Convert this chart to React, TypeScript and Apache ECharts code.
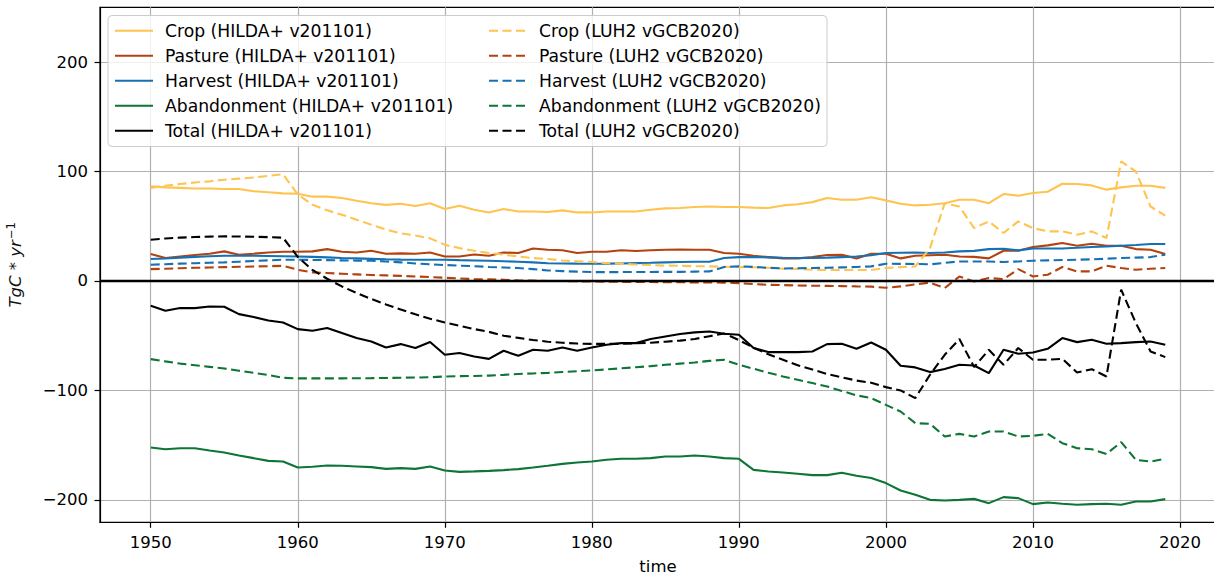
import React, { useEffect, useRef } from "react";
import * as echarts from "echarts";

const FONT = "DejaVu Sans";

const startYear = 1950;
const years: number[] = Array.from({ length: 70 }, (_, i) => startYear + i);

const xTicks = [1950, 1960, 1970, 1980, 1990, 2000, 2010, 2020];
const yTicks = [-200, -100, 0, 100, 200];

const cropHilda = [
  86.5, 85.5, 85, 84.5, 84.5, 84, 84, 82, 81, 80,
  79.6, 77, 77, 75.8, 73.3, 71, 69.5, 70.5, 68.5, 71,
  65.7, 68.7, 65, 62.6, 65.7, 63.5, 63.5, 63, 64.5, 62.6,
  62.6, 63.5, 63.5, 63.5, 65, 66.3, 66.6, 67.5, 68, 67.5,
  67.5, 67, 66.6, 69, 70, 72, 75.8, 74.2, 74.2, 76.4,
  73.6, 70.6, 69, 69.6, 71, 74.2, 74.2, 71, 79.4, 77.9,
  80.3, 81.5, 88.8, 88.5, 87.3, 83.4, 85.5, 87, 87, 85,
];
const pastureHilda = [
  24.6, 21, 22.4, 23.7, 24.9, 27, 24, 24.9, 26, 26.7,
  26.7, 27, 29.1, 26.7, 26, 27.6, 24.9, 25.2, 24.9, 26,
  22.4, 22.4, 24.2, 23, 26, 25.5, 29.7, 28.5, 28, 25.5,
  26.7, 26.7, 28, 27.4, 28, 28.5, 28.7, 28.5, 28.5, 25.5,
  24.9, 23, 21.8, 20.6, 20.6, 21.8, 23.7, 24, 20.6, 24.9,
  24.9, 20.6, 23, 23.5, 24, 22.4, 22, 20.6, 27.6, 27.6,
  31, 32.5, 34.6, 32.2, 34, 32.2, 32.2, 29.1, 28.5, 24.6,
];
const harvestHilda = [
  20, 20.5, 21.3, 22, 22.5, 23, 23, 23, 22.8, 22.6,
  22.4, 22, 21.5, 21, 20.6, 20.2, 19.8, 19.5, 19.4, 19.4,
  19.4, 19, 18.7, 18.4, 18, 17.5, 17, 16.2, 16, 15.8,
  15.7, 15.8, 16, 16.3, 16.6, 17, 17.3, 17.5, 17.5, 21,
  21.8, 21.8, 21.5, 21.2, 21, 21, 21.3, 21.8, 22.3, 23.5,
  25.5, 25.8, 26, 25.5, 26, 27, 27.5, 29.1, 29.4, 27.9,
  29.7, 29.7, 29.7, 30.3, 31, 31.5, 32.2, 32.8, 33.7, 33.7,
];
const abandonHilda = [
  -152.2, -153.7, -152.8, -152.8, -154.9, -156.8, -159.5, -161.9, -164.4, -165,
  -170.5, -169.8, -168.6, -168.9, -169.5, -170.1, -171.7, -171, -171.7, -169.5,
  -173.2, -174.4, -174, -173.5, -172.8, -171.9, -170.5, -168.9, -167.1, -165.9,
  -165, -163.4, -162.5, -162.5, -161.9, -160.4, -160.4, -159.5, -160.4, -161.9,
  -162.5, -172.6, -174.1, -175, -176.2, -177.4, -177.4, -175.3, -178, -180,
  -184.7, -191.5, -195.4, -200, -200.6, -200, -199.1, -203, -197.5, -198.4,
  -203.9, -202.4, -203.6, -204.5, -203.9, -203.6, -204.5, -201.5, -201.5, -199.3,
];
const totalHilda = [
  -22.7, -27.2, -24.8, -24.8, -23.3, -23.6, -30.3, -33, -36.1, -37.9,
  -44, -45.5, -43, -47.6, -52.2, -55.3, -60.8, -57.7, -61.3, -55.8,
  -67.5, -65.9, -69, -71.2, -63.8, -68.4, -62.9, -63.8, -60.8, -63.8,
  -60.8, -58.3, -56.8, -56.8, -53.1, -50.7, -48.5, -47, -46.2, -48.3,
  -49.2, -61.3, -65, -65, -65, -64.4, -57.7, -57.4, -62, -56.2,
  -62.9, -77.5, -79, -83.3, -80.5, -76.6, -77.2, -84.2, -62.9, -66.5,
  -65.3, -62, -52.2, -55.9, -53.7, -57.4, -56.8, -55.9, -55.3, -58.3,
];

const cropLuh2 = [
  85, 87, 88.5, 90, 91, 92.5, 93.5, 94.5, 96, 97.5,
  79, 69.6, 64.5, 60.5, 56, 51.4, 47, 43.5, 41.5, 38.9,
  33, 30, 27.6, 25.5, 24, 22.4, 20.9, 20, 18.7, 18,
  17.3, 16.3, 15.7, 15, 14.5, 14, 13.8, 13.5, 13.3, 13,
  12.7, 12.5, 12, 11.2, 11, 10.2, 10, 10, 10, 10,
  11.8, 12.6, 13.3, 30, 71, 68, 48.3, 54.4, 43.8, 54.4,
  48.3, 45.3, 45.3, 42.2, 45.3, 39.2, 109.2, 100, 68, 59.6,
];
const pastureLuh2 = [
  10.8, 11.2, 11.6, 12, 12.3, 12.6, 12.9, 13.2, 13.5, 13.8,
  10.2, 7.8, 7.2, 6.6, 6, 5.4, 5.1, 4.6, 4.1, 3.5,
  2.9, 2.3, 1.7, 1.5, 1.1, 0.5, 0.3, 0, 0, -0.3,
  -0.5, -0.6, -0.8, -0.9, -1, -1.1, -1.2, -1.3, -1.3, -1.5,
  -2, -2.9, -3.5, -3.8, -4.1, -4.4, -4.5, -4.7, -5, -5.2,
  -6.2, -5, -3.2, -1.5, -6.5, 4.1, -0.4, 2.6, 1.7, 10.8,
  4.1, 5.7, 12.7, 8.7, 8.7, 13.9, 11.8, 10.2, 11.2, 11.8,
];
const harvestLuh2 = [
  14.8, 15.3, 15.8, 16.2, 16.6, 17, 17.6, 18.2, 18.8, 19.4,
  19.4, 19.2, 19, 18.8, 18.6, 18.5, 17.8, 17, 16, 15.2,
  14.5, 14, 13.5, 12.8, 12.3, 11.8, 10.8, 9.6, 9, 8.5,
  8.1, 8.1, 8.1, 8.2, 8.2, 8.3, 8.3, 8.5, 8.7, 12.7,
  13.3, 12.8, 12, 11.4, 11.6, 11.8, 12, 12.4, 12.8, 13.3,
  15.7, 15.6, 15.5, 15.2, 16.5, 17.8, 17.8, 17.8, 17.3, 17.8,
  18.5, 18.8, 19.1, 19.4, 19.8, 20.3, 20.9, 21.3, 21.8, 24,
];
const abandonLuh2 = [
  -71.4, -73.5, -75.5, -77, -78.5, -80, -82, -84, -86, -88.5,
  -89, -89, -89, -89, -88.9, -88.8, -88.6, -88.4, -88.2, -88,
  -87.3, -87, -86.8, -86.5, -85.8, -85, -84.5, -84, -83.2, -82.5,
  -81.8, -80.8, -79.8, -78.8, -77.8, -76.6, -75.5, -74.5, -73, -72,
  -76.6, -80.2, -83.8, -87.3, -90.3, -93.3, -96.4, -100.5, -104.5, -107,
  -113.2, -119.3, -129.9, -130.5, -142.1, -139.7, -142.1, -137.5, -137.5, -142.1,
  -141.5, -139.7, -148.2, -152.8, -153.7, -158, -147.3, -163.4, -165, -162.5,
];
const totalLuh2 = [
  37.7, 38.8, 39.6, 40.1, 40.5, 40.7, 40.6, 40.4, 40, 39.5,
  22, 10, 2, -5, -11, -16.5, -21.5, -26, -30.5, -34.5,
  -38, -41, -44, -46.5, -50, -52, -54, -55.5, -56.5, -57.2,
  -57.5, -57.5, -57.3, -57, -56.5, -55.5, -54.5, -53, -50.5, -48,
  -54, -61, -67, -72, -77, -81, -85, -88, -91, -93,
  -97, -100, -107, -85.7, -67.5, -53.1, -78.7, -62.9, -76.6, -61.3,
  -72, -72, -71.1, -83.6, -80.6, -87.3, -8, -38.5, -64.4, -69.6,
];

const hildaNames = [
  "Crop (HILDA+ v201101)",
  "Pasture (HILDA+ v201101)",
  "Harvest (HILDA+ v201101)",
  "Abandonment (HILDA+ v201101)",
  "Total (HILDA+ v201101)",
];
const luhNames = [
  "Crop (LUH2 vGCB2020)",
  "Pasture (LUH2 vGCB2020)",
  "Harvest (LUH2 vGCB2020)",
  "Abandonment (LUH2 vGCB2020)",
  "Total (LUH2 vGCB2020)",
];
const colors = ["#fec44f", "#b4420f", "#1571b4", "#0d7535", "#000000"];
const hildaData = [cropHilda, pastureHilda, harvestHilda, abandonHilda, totalHilda];
const luhData = [cropLuh2, pastureLuh2, harvestLuh2, abandonLuh2, totalLuh2];

function makeSeries(name: string, values: number[], color: string, dashed: boolean) {
  return {
    name,
    type: "line",
    data: years.map((y, i) => [y, values[i]]),
    symbol: "none",
    showSymbol: false,
    silent: true,
    lineStyle: { color, width: 2.1, type: dashed ? [9, 4.5] : "solid" },
    itemStyle: { color },
  };
}

export default function App() {
  const ref = useRef<HTMLDivElement>(null);
  useEffect(() => {
    if (!ref.current) return;
    const chart = echarts.init(ref.current, null, { renderer: "svg" });
    const series: any[] = [];
    hildaNames.forEach((n, i) => series.push(makeSeries(n, hildaData[i], colors[i], false)));
    luhNames.forEach((n, i) => series.push(makeSeries(n, luhData[i], colors[i], true)));
    series[series.length - 1].markLine = {
      silent: true,
      symbol: ["none", "none"],
      label: { show: false },
      lineStyle: { color: "#000", width: 2.4, type: "solid" },
      data: [{ yAxis: 0 }],
    };
    const legendBase = {
      orient: "vertical",
      top: 22.2,
      itemWidth: 38,
      itemHeight: 14,
      itemGap: 8,
      padding: 0,
      z: 6,
      selectedMode: false,
      itemStyle: { opacity: 0 },
      textStyle: { fontSize: 17.2, color: "#000", fontFamily: FONT, padding: [0, 0, 0, 7] },
    };
    chart.setOption({
      animation: false,
      backgroundColor: "#fff",
      textStyle: { fontFamily: FONT },
      grid: {
        left: 100,
        top: 7.3,
        width: 1116,
        height: 515,
        containLabel: false,
        outerBoundsMode: "none",
        show: true,
        borderColor: "#000",
        borderWidth: 1.2,
        backgroundColor: "transparent",
      },
      legend: [
        { ...legendBase, left: 114, data: hildaNames },
        { ...legendBase, left: 488, data: luhNames },
      ],
      graphic: [
        {
          type: "rect",
          z: 5,
          shape: { x: 108, y: 15.5, width: 719, height: 131, r: 4 },
          style: { fill: "rgba(255,255,255,0.8)", stroke: "#cccccc", lineWidth: 1 },
          silent: true,
        },
      ],
      xAxis: {
        type: "value",
        min: 1946.55,
        max: 2022.45,
        minInterval: 10,
        maxInterval: 10,
        name: "time",
        nameLocation: "middle",
        nameGap: 36,
        nameTextStyle: { fontSize: 16.5, color: "#000", fontFamily: FONT },
        axisLine: { show: true, onZero: false, lineStyle: { color: "#000", width: 1.2 } },
        axisTick: { show: true, inside: false, length: 5.5, customValues: xTicks, lineStyle: { color: "#000", width: 1.2 } },
        axisLabel: {
          customValues: xTicks,
          margin: 12,
          fontSize: 16.5,
          color: "#000",
          fontFamily: FONT,
          formatter: (v: number) => String(v),
        },
        splitLine: { show: true, lineStyle: { color: "#b0b0b0", width: 1.2 } },
      },
      yAxis: {
        type: "value",
        min: -220.5,
        max: 250,
        minInterval: 100,
        maxInterval: 100,
        name: "{i|TgC * yr}{s|−1}",
        nameLocation: "middle",
        nameGap: 74,
        nameTextStyle: {
          color: "#000",
          rich: {
            i: { fontSize: 16.5, fontStyle: "italic", fontFamily: FONT, color: "#111" },
            s: { fontSize: 11.5, fontFamily: FONT, color: "#111", padding: [0, 0, 9, 1] },
          },
        },
        axisLine: { show: true, onZero: false, lineStyle: { color: "#000", width: 1.2 } },
        axisTick: { show: true, inside: false, length: 5.5, customValues: yTicks, lineStyle: { color: "#000", width: 1.2 } },
        axisLabel: {
          customValues: yTicks,
          margin: 12,
          fontSize: 16.5,
          color: "#000",
          fontFamily: FONT,
          formatter: (v: number) => String(v).replace("-", "\u2212"),
        },
        splitLine: { show: true, lineStyle: { color: "#b0b0b0", width: 1.2 } },
      },
      series,
    });
    return () => chart.dispose();
  }, []);
  return (
    <div
      ref={ref}
      style={{ position: "fixed", left: 0, top: 0, width: 1214, height: 577, background: "#fff" }}
    />
  );
}
